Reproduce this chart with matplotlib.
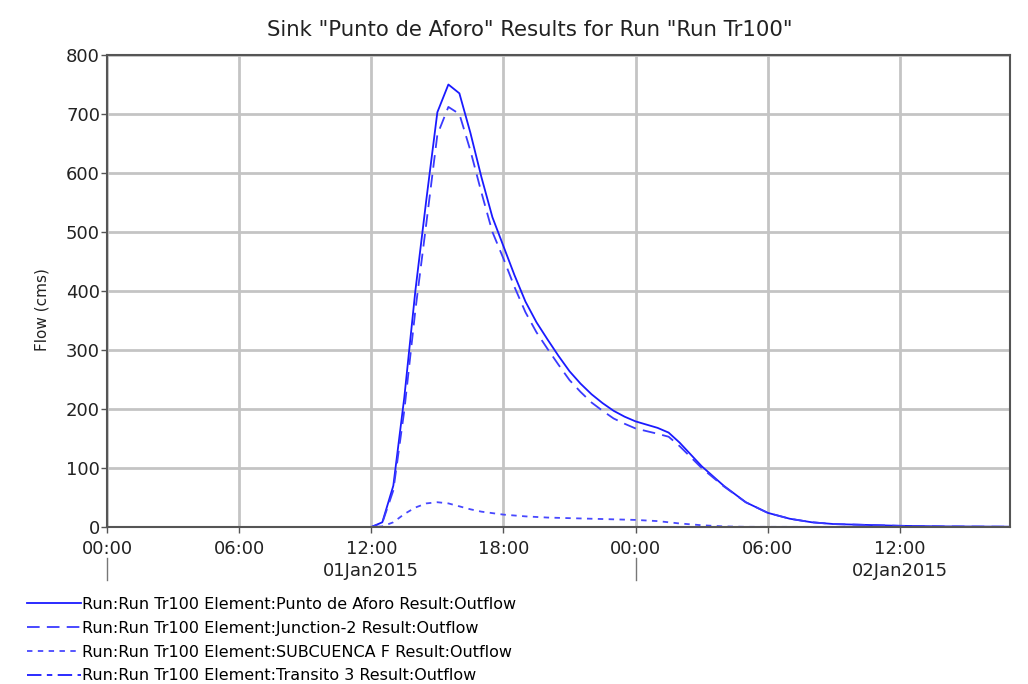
import matplotlib
matplotlib.use("Agg")
import matplotlib.pyplot as plt
import matplotlib.transforms as mtransforms
from matplotlib.lines import Line2D

plt.rcParams['font.family'] = ['DejaVu Sans']

# Hours since 00:00 on 01Jan2015
t_main = [0, 12.0, 12.5, 13.0, 13.5, 14.0, 14.5, 15.0, 15.5, 16.0, 16.5, 17.0, 17.5,
          18.0, 18.5, 19.0, 19.5, 20.0, 20.5, 21.0, 21.5, 22.0, 22.5, 23.0, 23.5,
          24.0, 25.0, 25.5, 26.0, 27.0, 28.0, 29.0, 30.0, 31.0, 32.0, 33.0, 34.0,
          36.0, 38.0, 41.0]
punto_aforo = [0, 0, 8, 70, 220, 400, 555, 703, 750, 735, 668, 593, 525,
               476, 427, 382, 347, 318, 290, 264, 243, 225, 210, 197, 187,
               179, 168, 160, 143, 103, 70, 42, 24, 14, 8, 5, 4,
               2, 1, 0.5]
junction_2 = [0, 0, 7, 62, 198, 367, 515, 665, 712, 700, 638, 567, 500,
              455, 407, 364, 330, 302, 275, 249, 229, 211, 197, 184, 175,
              167, 158, 153, 137, 100, 69, 42, 24, 14, 8, 5, 4,
              2, 1, 0.5]

t_sub = [0, 12.0, 12.5, 13.0, 13.5, 14.0, 14.5, 15.0, 15.5, 16.0, 16.5, 17.0, 18.0,
         19.0, 20.0, 21.0, 22.0, 23.0, 24.0, 25.0, 26.0, 27.0, 28.0, 29.0, 41.0]
subcuenca_f = [0, 0, 1, 8, 22, 33, 40, 42, 40, 35, 30, 26, 21,
               18, 16, 15, 14, 13, 12, 10, 6, 3, 1, 0.3, 0]

t_transito = [0, 41.0]
transito_3 = [0, 0]

labels = [
    "Run:Run Tr100 Element:Punto de Aforo Result:Outflow",
    "Run:Run Tr100 Element:Junction-2 Result:Outflow",
    "Run:Run Tr100 Element:SUBCUENCA F Result:Outflow",
    "Run:Run Tr100 Element:Transito 3 Result:Outflow",
]
tick_hours = [0, 6, 12, 18, 24, 30, 36]
tick_labels = ["00:00", "06:00", "12:00", "18:00", "00:00", "06:00", "12:00"]
day_starts = [0, 24]
day_labels = [(12, "01Jan2015"), (36, "02Jan2015")]

W, H = 1028, 684
fig = plt.figure(figsize=(W / 100, H / 100), dpi=100)
ax = fig.add_axes([107 / W, 1 - 527 / H, (1010 - 107) / W, (527 - 55) / H])

blue = "#1a1aff"
l1, = ax.plot(t_main, punto_aforo, color=blue, lw=1.3, ls="-")
l2, = ax.plot(t_main, junction_2, color="#3a3aff", lw=1.3, ls=(0, (7, 4)))
l3, = ax.plot(t_sub, subcuenca_f, color="#4848ff", lw=1.3, ls=(0, (3, 3)))
l4, = ax.plot(t_transito, transito_3, color=blue, lw=1.3, ls=(0, (8, 3, 3, 3)))

ax.set_xlim(0, 41)
ax.set_ylim(0, 800)
ax.set_yticks(range(0, 801, 100))
ax.set_xticks(tick_hours)
ax.set_xticklabels(tick_labels)
ax.grid(True, color="#c4c4c4", lw=2)
ax.set_axisbelow(True)
for sp in ax.spines.values():
    sp.set_color("#555555")
    sp.set_linewidth(1.5)
ax.tick_params(axis="both", colors="#555555", labelcolor="#222222",
               labelsize=13, length=4, width=1)
ax.tick_params(axis="x", pad=5)
ax.tick_params(axis="y", pad=1)

fig.text(42 / W, 1 - 310 / H, "Flow (cms)", rotation=90, ha="center", va="center",
         fontsize=11, color="#222222")
fig.text(530 / W, 1 - 30 / H, 'Sink "Punto de Aforo" Results for Run "Run Tr100"',
         ha="center", va="center", fontsize=15.3, color="#222222")

# Second tier of the time axis: day names and day separators
trans = mtransforms.blended_transform_factory(ax.transData, fig.transFigure)
for h in day_starts:
    ax.add_line(Line2D([h, h], [1 - 558 / H, 1 - 580 / H], transform=trans,
                       color="#777777", lw=1, clip_on=False))
for h, txt in day_labels:
    ax.text(h, 1 - 571 / H, txt, transform=trans, ha="center", va="center",
            fontsize=13, color="#222222")

fig.legend([l1, l2, l3, l4], labels, loc="upper left",
           bbox_to_anchor=(27 / W, 1 - 597 / H), frameon=False,
           fontsize=11.5, handlelength=3.4, handletextpad=0.05,
           labelspacing=0.55, borderaxespad=0, borderpad=0)

fig.savefig("out.png", dpi=100, facecolor="white")
